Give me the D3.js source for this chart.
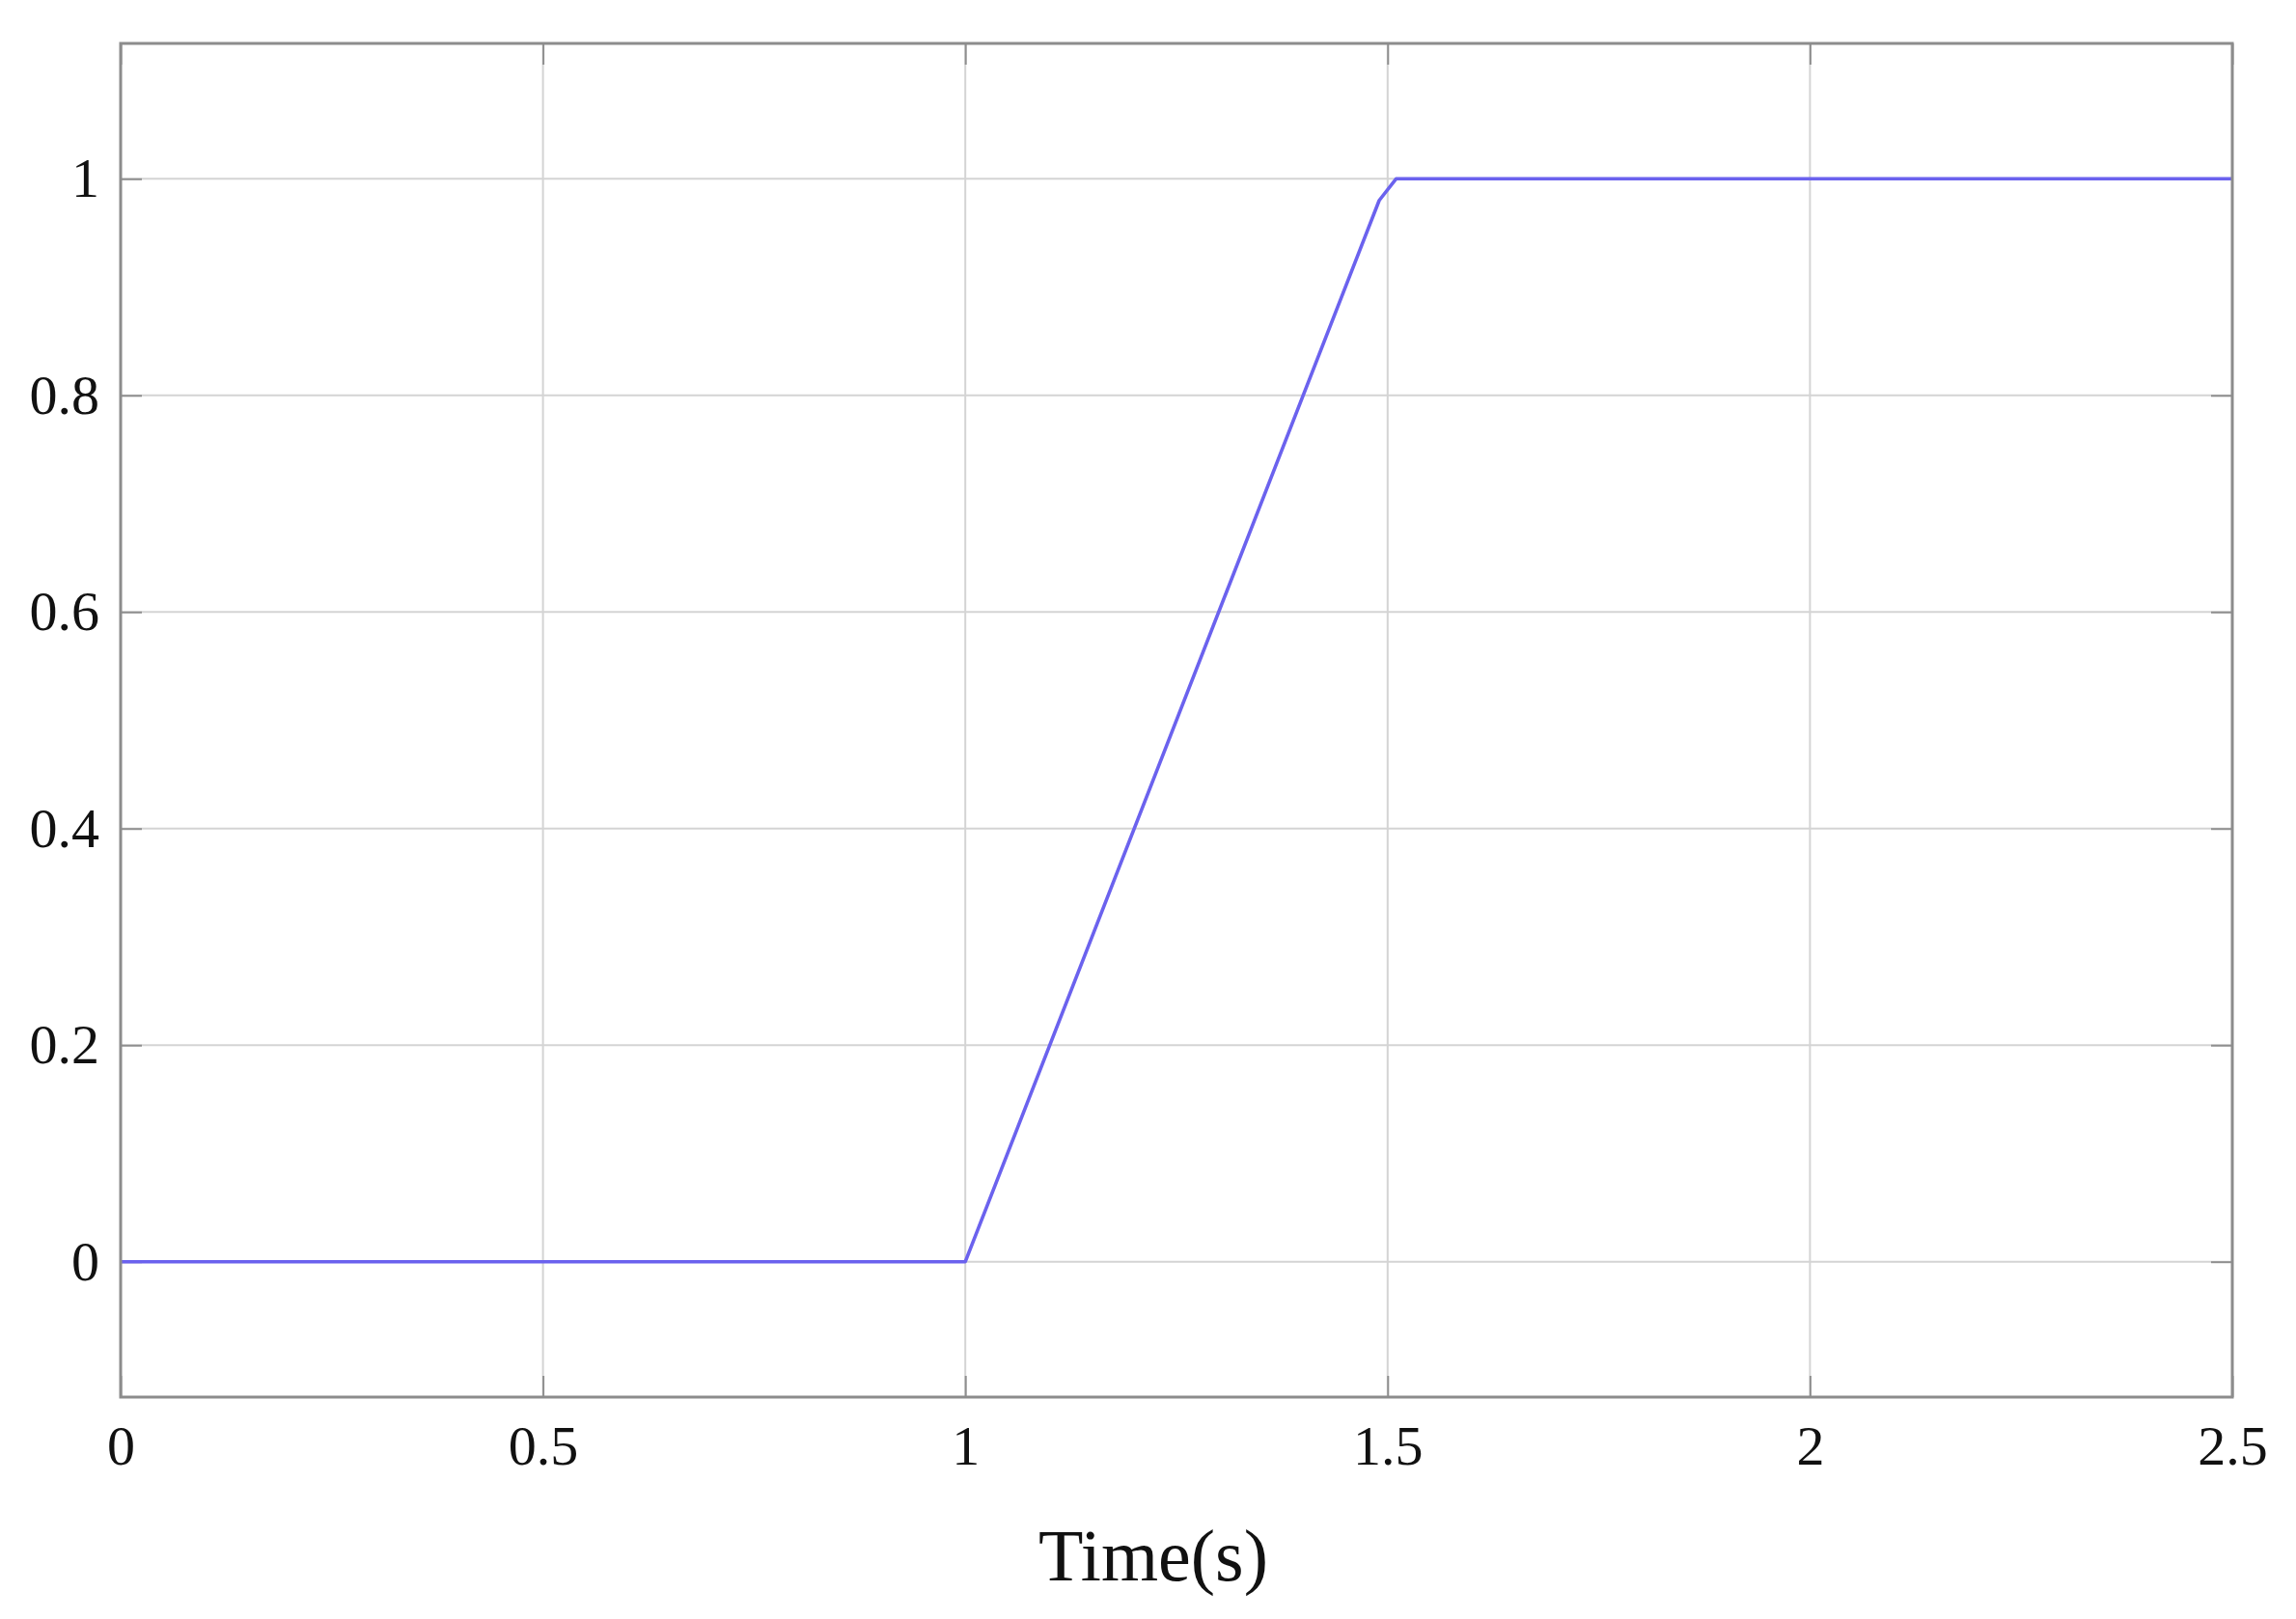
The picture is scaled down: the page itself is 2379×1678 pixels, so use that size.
<!DOCTYPE html>
<html><head><meta charset="utf-8">
<script src="https://cdn.jsdelivr.net/npm/d3@7"></script>
<style>body{margin:0;background:#fff}svg{display:block}</style>
</head><body>
<svg id="c" width="2379" height="1678"></svg>
<script>
const timeValues = [0, 1, 1.49, 1.51, 2.5];
const signalValues = [0, 0, 0.98, 1, 1];
const xTicks = [0, 0.5, 1, 1.5, 2, 2.5];
const yTicks = [0, 0.2, 0.4, 0.6, 0.8, 1];
const xLabel = "Time(s)";

const svg = d3.select("#c");
const L = 125, R = 2313, T = 45, B = 1448;
const x = d3.scaleLinear().domain([0, 2.5]).range([L, R]);
const y = d3.scaleLinear().domain([-0.125, 1.125]).range([B, T]);
const font = "'Liberation Serif', 'DejaVu Serif', serif";

// grid
svg.append("g").selectAll("line").data(xTicks.slice(1, -1)).join("line")
  .attr("x1", d => x(d)).attr("x2", d => x(d)).attr("y1", T).attr("y2", B)
  .attr("stroke", "#d4d4d4").attr("stroke-width", 2);
svg.append("g").selectAll("line").data(yTicks).join("line")
  .attr("x1", L).attr("x2", R).attr("y1", d => y(d)).attr("y2", d => y(d))
  .attr("stroke", "#d4d4d4").attr("stroke-width", 2);

// axes (ticks inside)
const xAxis = d3.axisBottom(x).tickValues(xTicks).tickSize(-22).tickPadding(29).tickFormat(d3.format("~g"));
const yAxis = d3.axisLeft(y).tickValues(yTicks).tickSize(-22).tickPadding(22).tickFormat(d3.format("~g"));
const xTop = d3.axisTop(x).tickValues(xTicks).tickSize(-22).tickFormat("");
const yRight = d3.axisRight(y).tickValues(yTicks).tickSize(-22).tickFormat("");
const gx = svg.append("g").attr("transform", `translate(0,${B})`).call(xAxis);
const gy = svg.append("g").attr("transform", `translate(${L},0)`).call(yAxis);
const gt = svg.append("g").attr("transform", `translate(0,${T})`).call(xTop);
const gr = svg.append("g").attr("transform", `translate(${R},0)`).call(yRight);
[gx, gy, gt, gr].forEach(g => {
  g.select(".domain").remove();
  g.selectAll(".tick line").attr("stroke", "#8f8f8f").attr("stroke-width", 2);
  g.selectAll(".tick text").attr("font-family", font).attr("font-size", 58).attr("fill", "#111");
});
gx.selectAll(".tick text").attr("dy", "0.71em");
gy.selectAll(".tick text").attr("dy", "0.32em");

// data line
const line = d3.line().x((d, i) => x(timeValues[i])).y(d => y(d));
svg.append("path").datum(signalValues).attr("d", line)
  .attr("fill", "none").attr("stroke", "#6b62ee").attr("stroke-width", 3.6)
  .attr("stroke-linejoin", "round");

// frame
svg.append("rect").attr("x", L).attr("y", T).attr("width", R - L).attr("height", B - T)
  .attr("fill", "none").attr("stroke", "#8c8c8c").attr("stroke-width", 3);

// x label
svg.append("text").attr("x", 1195).attr("y", 1638).attr("text-anchor", "middle")
  .attr("font-family", font).attr("font-size", 76).attr("fill", "#111").text(xLabel);
</script>
</body></html>
